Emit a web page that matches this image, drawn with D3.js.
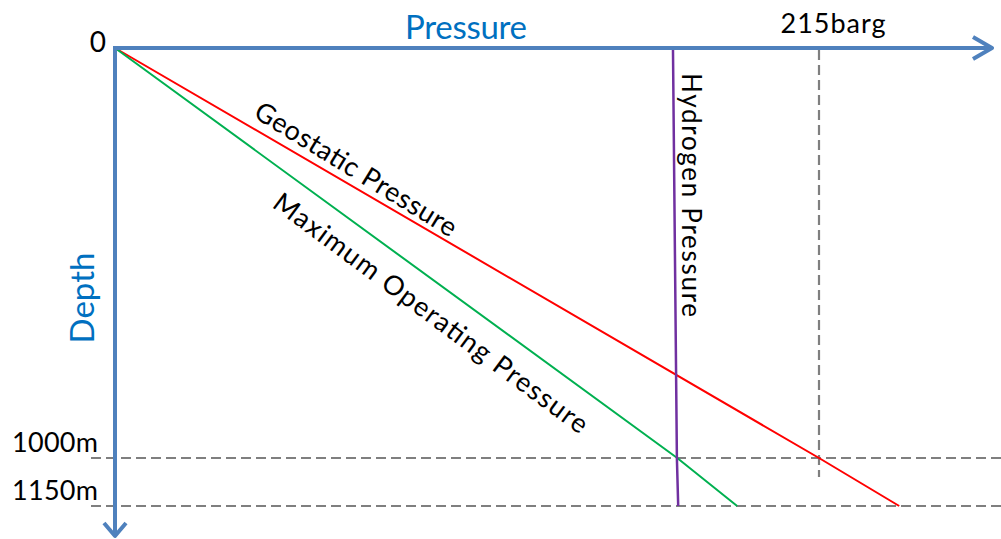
<!DOCTYPE html>
<html>
<head>
<meta charset="utf-8">
<script src="https://cdn.jsdelivr.net/npm/d3@7"></script>
<style>
  body { margin: 0; background: #fff; }
  text { font-family: Lato, "Open Sans", sans-serif; }
</style>
</head>
<body>
<div id="chart"></div>
<script>
// depth points (m) and pressure (barg)
const depths = [0, 1000, 1150];
const geostatic = [0, 215, 239.5];
const maxOperating = [0, 171.7, 190];
const hydrogen = [170.4, 171.6, 172];
const pressureMark = 215;
const depthMarks = [1000, 1150];

const width = 1001;
const height = 539;

const svg = d3.select("#chart")
  .append("svg")
  .attr("width", width)
  .attr("height", height);

// Scales (sketch is not to scale below 1000m)
const xScale = d3.scaleLinear().domain([0, 215]).range([115, 819]);
const yScale = d3.scaleLinear().domain([0, 1000, 1150]).range([48, 458, 506]);

const axisColor = "#4f81bd";

// Reference dashed lines
svg.selectAll(".hdash")
  .data(depthMarks)
  .enter()
  .append("line")
  .attr("x1", 91).attr("x2", width)
  .attr("y1", d => yScale(d)).attr("y2", d => yScale(d))
  .attr("stroke", "#7f7f7f")
  .attr("stroke-width", 2.2)
  .attr("stroke-dasharray", "10,5");

svg.append("line")
  .attr("x1", xScale(pressureMark)).attr("x2", xScale(pressureMark))
  .attr("y1", 50).attr("y2", 477)
  .attr("stroke", "#7f7f7f")
  .attr("stroke-width", 2.2)
  .attr("stroke-dasharray", "10,5");

// Pressure lines
const line = (vals) => d3.line()
  .x((d, i) => xScale(vals[i]))
  .y(d => yScale(d))(depths);

svg.append("path").attr("d", line(geostatic))
  .attr("fill", "none").attr("stroke", "#ff0000").attr("stroke-width", 2);
svg.append("path").attr("d", line(maxOperating))
  .attr("fill", "none").attr("stroke", "#00b050").attr("stroke-width", 2);
svg.append("path").attr("d", line(hydrogen))
  .attr("fill", "none").attr("stroke", "#7030a0").attr("stroke-width", 2.5);

// Axes with open arrowheads
const x0 = xScale(0), y0 = yScale(0);
svg.append("path")
  .attr("d", `M${x0 - 2},${y0}H992M973,37L992,${y0}L973,59`)
  .attr("fill", "none").attr("stroke", axisColor).attr("stroke-width", 4)
  .attr("stroke-linejoin", "round");
svg.append("path")
  .attr("d", `M${x0},${y0 - 2}V536M104,523L${x0},536L126,523`)
  .attr("fill", "none").attr("stroke", axisColor).attr("stroke-width", 4)
  .attr("stroke-linejoin", "round");

// Axis titles
svg.append("text")
  .attr("x", 466).attr("y", 39)
  .attr("text-anchor", "middle")
  .attr("font-size", 33)
  .attr("fill", "#0070c0")
  .attr("textLength", 122)
  .text("Pressure");

svg.append("text")
  .attr("transform", "translate(94,298) rotate(-90)")
  .attr("text-anchor", "middle")
  .attr("font-size", 33)
  .attr("fill", "#0070c0")
  .attr("textLength", 91)
  .text("Depth");

// Tick labels
svg.append("text")
  .attr("x", 106).attr("y", 52)
  .attr("text-anchor", "end")
  .attr("font-size", 28)
  .text("0");

svg.append("text")
  .attr("x", xScale(pressureMark) + 14).attr("y", 33)
  .attr("text-anchor", "middle")
  .attr("font-size", 27)
  .attr("textLength", 105)
  .text(pressureMark + "barg");

svg.selectAll(".dlabel")
  .data(depthMarks)
  .enter()
  .append("text")
  .attr("x", 12)
  .attr("y", d => yScale(d) - 6)
  .attr("font-size", 27)
  .attr("textLength", 86)
  .text(d => d + "m");

// Line labels
svg.append("text")
  .attr("transform", "translate(356,169) rotate(31.5)")
  .attr("text-anchor", "middle")
  .attr("dy", "0.35em")
  .attr("font-size", 27)
  .attr("textLength", 232)
  .text("Geostatic Pressure");

svg.append("text")
  .attr("transform", "translate(431,313) rotate(36.5)")
  .attr("text-anchor", "middle")
  .attr("dy", "0.35em")
  .attr("font-size", 27)
  .attr("textLength", 384)
  .text("Maximum Operating Pressure");

svg.append("text")
  .attr("transform", "translate(682,195) rotate(90)")
  .attr("text-anchor", "middle")
  .attr("font-size", 26)
  .attr("textLength", 244)
  .text("Hydrogen Pressure");
</script>
</body>
</html>
